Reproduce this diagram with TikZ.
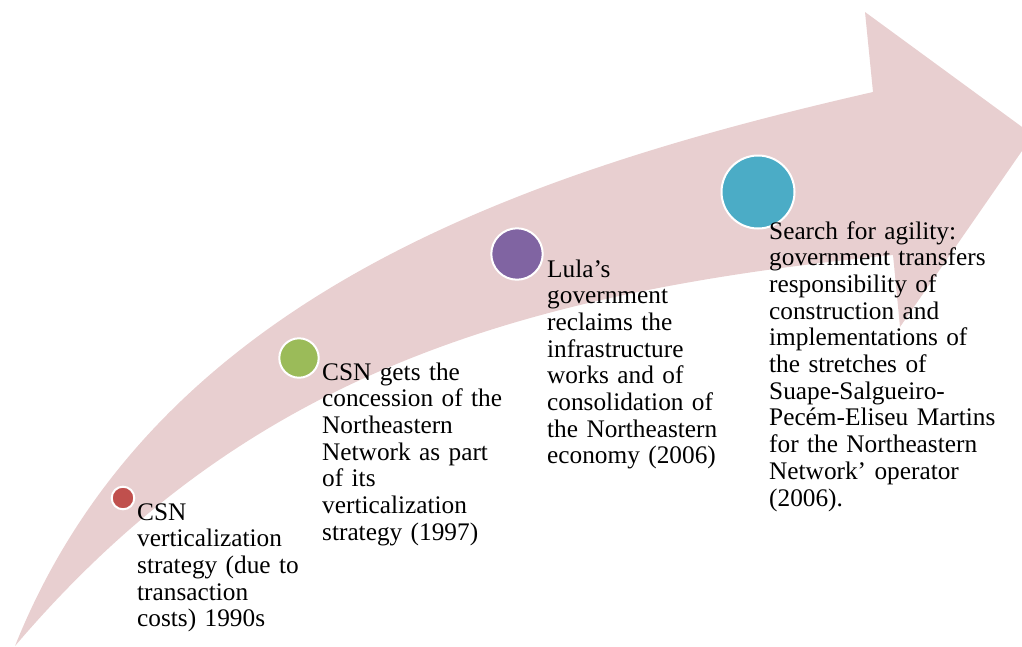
\documentclass[tikz,border=0pt]{standalone}
\usepackage{fontspec}
\setmainfont{Liberation Serif}
\definecolor{arrowpink}{RGB}{232,207,208}
\definecolor{cred}{HTML}{C0504D}
\definecolor{cgreen}{HTML}{9BBB59}
\definecolor{cpurple}{HTML}{8064A2}
\definecolor{cteal}{HTML}{4BACC6}
\begin{document}
\begin{tikzpicture}[x=1pt,y=-1pt,
  bead/.style={circle, draw=white, line width=2pt, inner sep=0pt},
  txt/.style={anchor=base west, inner sep=0pt, text width=300pt, align=left,
    font=\fontsize{25.3}{26.7}\selectfont}]
\useasboundingbox (0,0) rectangle (1022,646);
\clip (0,0) rectangle (1022,646);
\coordinate (tail) at (15,646);
\coordinate (ntop) at (873,92);
\coordinate (htop) at (865,12);
\coordinate (tip) at (1033,135);
\coordinate (hbot) at (900,327);
\coordinate (nbot) at (893,255);
\fill[arrowpink] (tail) .. controls (155,296) and (523,172) .. (ntop)
  -- (htop) -- (tip) -- (hbot) -- (nbot)
  .. controls (513,293) and (245,376) .. (tail) -- cycle;
\node[bead, fill=cred, minimum size=22.6pt] (d1) at (123,498) {};
\node[bead, fill=cgreen, minimum size=39.4pt] (d2) at (299,358) {};
\node[bead, fill=cpurple, minimum size=51.4pt] (d3) at (517,254) {};
\node[bead, fill=cteal, minimum size=73pt] (d4) at (758,192) {};
\node[txt] (t1) at (137,520) {CSN\\verticalization\\strategy (due to\\transaction\\costs) 1990s};
\node[txt] (t2) at (322,380) {CSN gets the\\concession of the\\Northeastern\\Network as part\\of its\\verticalization\\strategy (1997)};
\node[txt] (t3) at (547,277) {Lula’s\\government\\reclaims the\\infrastructure\\works and of\\consolidation of\\the Northeastern\\economy (2006)};
\node[txt] (t4) at (769,239) {Search for agility:\\government transfers\\responsibility of\\construction and\\implementations of\\the stretches of\\Suape-Salgueiro-\\Pecém-Eliseu Martins\\for the Northeastern\\Network’ operator\\(2006).};
\end{tikzpicture}
\end{document}
